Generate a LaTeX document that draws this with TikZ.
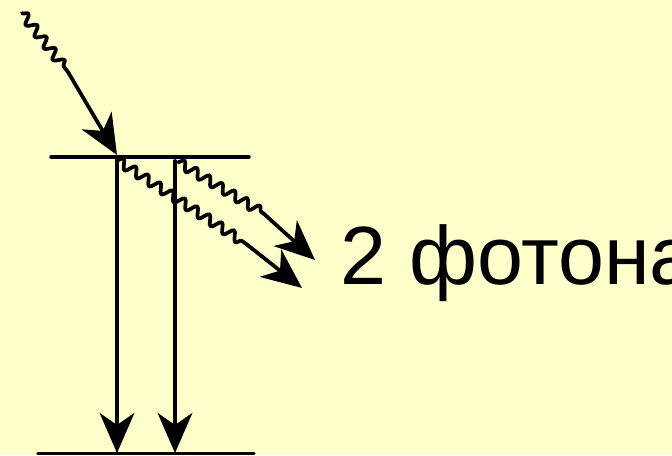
\documentclass[tikz,border=0pt]{standalone}
\usepackage{fontspec}
\setmainfont{Liberation Sans}
\usepackage{xcolor}
\definecolor{bgyellow}{HTML}{FFFFCC}
\usetikzlibrary{arrows.meta,decorations.pathmorphing}
\tikzset{
  every picture/.style={line cap=round, line join=round},
  level/.style={black, line width=2.6pt},
  trans/.style={black, line width=2.8pt, -{Stealth[length=30pt, width=26pt, inset=9pt]}},
  photon/.style={black, line width=2.8pt, decorate,
    decoration={snake, amplitude=3.6pt, segment length=11pt}},
  lbl/.style={font=\fontsize{62}{70}\selectfont, inner sep=0pt},
}

\begin{document}
\begin{tikzpicture}[x=0.75pt, y=-0.75pt]
\useasboundingbox (0,0) rectangle (672,455);
\fill[bgyellow] (0,0) rectangle (672,455);
\clip (0,0) rectangle (672,455);
% energy levels
\coordinate (upL) at (51,157);
\coordinate (upR) at (249,157);
\coordinate (loL) at (38,453.5);
\coordinate (loR) at (254,453.5);
\draw[level] (upL) -- (upR);
\draw[level] (loL) -- (loR);
% incoming photon
\coordinate (inA) at (22,13);
\coordinate (inB) at (68,72);
\coordinate (inT) at (117,155);
\draw[photon] (inA) -- (inB);
\draw[trans] (inB) -- (inT);
% downward transitions
\coordinate (dA) at (117,157);
\coordinate (dAt) at (117,453);
\coordinate (dB) at (175,161);
\coordinate (dBt) at (175,453);
\draw[trans] (dA) -- (dAt);
\draw[trans] (dB) -- (dBt);
% emitted photons
\coordinate (eA) at (117,160);
\coordinate (eAw) at (245,243);
\coordinate (eAt) at (302,288);
\coordinate (eB) at (178,162);
\coordinate (eBw) at (263,213);
\coordinate (eBt) at (315,260);
\draw[photon] (eA) -- (eAw);
\draw[trans] (eAw) -- (eAt);
\draw[photon] (eB) -- (eBw);
\draw[trans] (eBw) -- (eBt);
\node[lbl, anchor=base west] (two) at (340,284) {2 фотона};
\end{tikzpicture}
\end{document}
